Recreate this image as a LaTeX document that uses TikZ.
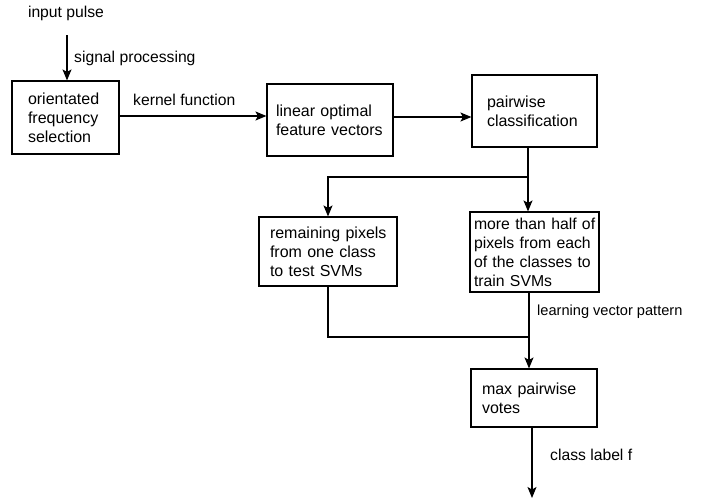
\documentclass[tikz,border=0pt]{standalone}
\usepackage{fontspec}
\setmainfont{Liberation Sans}
\usetikzlibrary{arrows.meta}
\begin{document}
\begin{tikzpicture}[x=1pt,y=-1pt,
  box/.style={draw, line width=1.1pt, rectangle, align=left, inner ysep=0pt, font=\fontsize{16}{19}\selectfont},
  lbl/.style={inner sep=0pt, font=\fontsize{15.7}{19}\selectfont},
  conn/.style={line width=1.2pt},
  arr/.style={conn, -{Stealth[length=11pt,width=9pt,inset=2.5pt]}}]
\useasboundingbox (0,0) rectangle (702,501);

\node[box, minimum width=107pt, minimum height=73pt, text width=75pt, inner xsep=16pt] (b1) at (65.5,117.5) {\mbox{orientated}\\\mbox{frequency}\\\mbox{selection}};
\node[box, minimum width=126pt, minimum height=72pt, text width=108pt, inner xsep=9pt] (b2) at (330,120) {\mbox{linear optimal}\\\mbox{feature vectors}};
\node[box, minimum width=125pt, minimum height=72pt, text width=95pt, inner xsep=15pt] (b3) at (534.5,111) {\mbox{pairwise}\\\mbox{classification}};
\node[box, minimum width=138pt, minimum height=69pt, text width=116pt, inner xsep=11pt] (b4) at (328,251.5) {\mbox{remaining pixels}\\\mbox{from one class}\\\mbox{to test SVMs}};
\node[box, minimum width=129pt, minimum height=80pt, text width=121pt, inner xsep=4pt, font=\fontsize{15.8}{19}\selectfont] (b5) at (534.5,252) {\mbox{more than half of}\\\mbox{pixels from each}\\\mbox{of the classes to}\\\mbox{train SVMs}};
\node[box, minimum width=126pt, minimum height=58pt, text width=104pt, inner xsep=11pt] (b6) at (534,398) {\mbox{max pairwise}\\\mbox{votes}};

\node[lbl] (tin) at (66,13) {input pulse};
\node[lbl, anchor=west] (tsig) at (74,58) {signal processing};
\node[lbl, anchor=west] (tker) at (133,100) {kernel function};
\node[lbl, anchor=west, font=\fontsize{14.6}{18}\selectfont] (tlvp) at (537,312) {learning vector pattern};
\node[lbl, anchor=west] (tcls) at (550,455) {class label f};

\coordinate (in) at (67,35);
\draw[arr] (in) -- (in |- b1.north);
\draw[arr] ([yshift=1.5pt]b1.east) -- ([yshift=1.5pt]b1.east -| b2.west);
\draw[arr] ([yshift=3pt]b2.east) -- ([yshift=3pt]b2.east -| b3.west);
\coordinate (j1) at (528,177);
\draw[conn] (j1 |- b3.south) -- (j1);
\draw[arr] (j1) -- (j1 |- b5.north);
\draw[arr] (j1) -| (b4.north);
\coordinate (j2) at (529,337);
\draw[conn] (b4.south) |- (j2);
\draw[conn] (j2 |- b5.south) -- (j2);
\draw[arr] (j2) -- (j2 |- b6.north);
\coordinate (out) at (532,498);
\draw[arr] (out |- b6.south) -- (out);
\end{tikzpicture}
\end{document}
